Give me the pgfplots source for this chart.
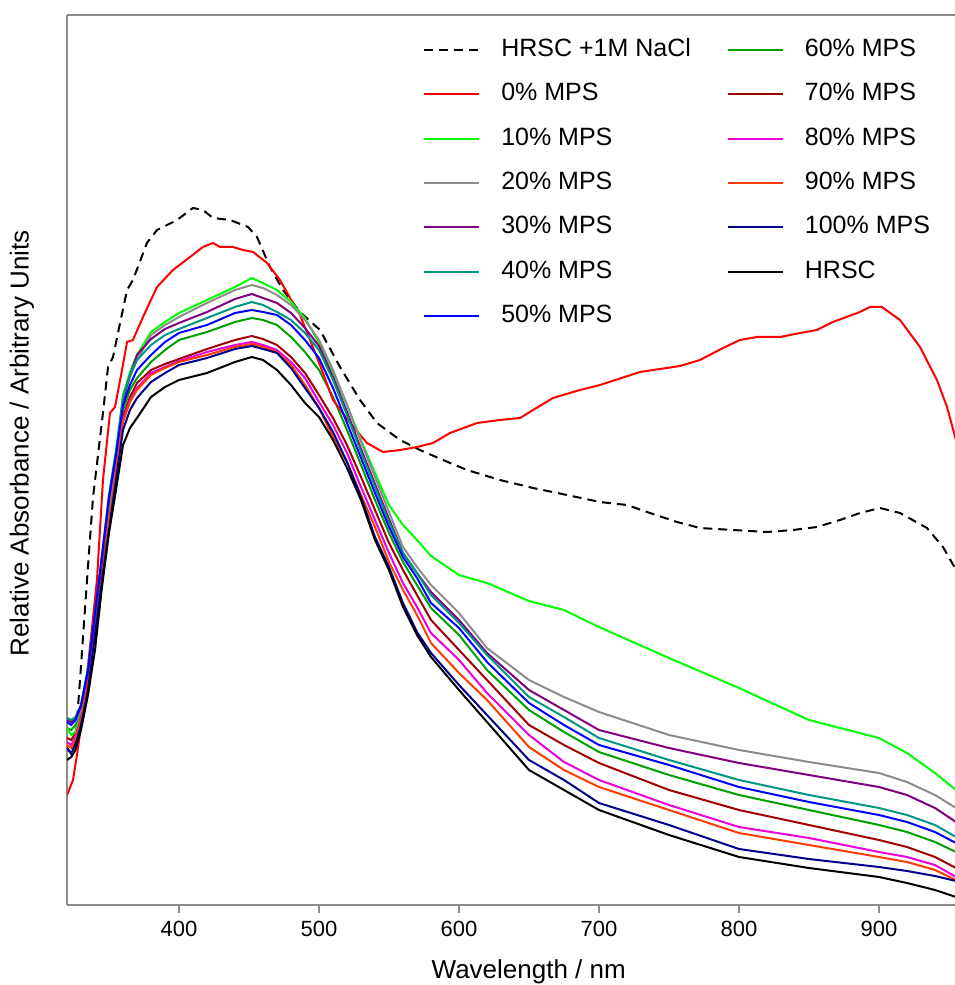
\documentclass[border=0pt]{standalone}
\usepackage{pgfplots}
\pgfplotsset{compat=1.18}
\usepackage{fontspec}
\setmainfont{Liberation Sans}
\definecolor{axgray}{RGB}{140,140,140}
\definecolor{cA}{RGB}{0,255,0}
\definecolor{cB}{RGB}{140,140,140}
\definecolor{cC}{RGB}{128,0,128}
\definecolor{cD}{RGB}{0,150,130}
\definecolor{cE}{RGB}{0,0,255}
\definecolor{cF}{RGB}{0,160,0}
\definecolor{cG}{RGB}{160,0,0}
\definecolor{cH}{RGB}{235,0,220}
\definecolor{cI}{RGB}{255,60,0}
\definecolor{cJ}{RGB}{0,0,140}
\begin{document}
\begin{tikzpicture}
\begin{axis}[
  scale only axis, width=888pt, height=890pt,
  xmin=320, xmax=954.3, ymin=0, ymax=890,
  axis x line*=box, axis y line*=left,
  axis line style={draw=axgray, line width=2.6pt},
  xtick={400,500,600,700,800,900}, xtick pos=bottom, ytick=\empty,
  tick align=outside, major tick length=8pt,
  tick style={draw=axgray, line width=2pt},
  /pgf/number format/assume math mode=true,
  ticklabel style={font=\fontsize{22}{26}\selectfont},
  xticklabel style={yshift=-5pt},
  xlabel={Wavelength / nm},
  ylabel={Relative Absorbance / Arbitrary Units},
  label style={font=\fontsize{26}{30}\selectfont},
  xlabel style={at={(axis description cs:0.52,-0.0745)}, anchor=center},
  ylabel style={at={(axis description cs:-0.0507,0.519)}, anchor=center},
  every axis plot/.append style={line width=2pt},
  legend columns=2,
  legend cell align=left,
  legend image code/.code={\draw[#1, line width=2pt] (0pt,0pt) -- (55pt,0pt);},
  legend style={draw=none, fill=none, at={(axis description cs:0.401,0.974)}, anchor=north west,
    font=\fontsize{25}{30}\selectfont, inner sep=0pt, row sep=21.4pt,
    nodes={inner sep=0pt, text height=18pt, text depth=5pt},
    /tikz/every odd column/.append style={column sep=21pt},
    /tikz/every even column/.append style={column sep=36pt}},
]
% HRSC + 1M NaCl
\addplot[black, dash pattern=on 9pt off 6pt] coordinates {(320,157)(323.6,150)(326.4,170)(329.3,225)(334.3,325)(338.6,408)(345.7,492)(349.3,538)(352.9,548)(357.9,582)(362.9,615)(367.1,625)(377.1,662)(384.3,675)(398.6,685)(410,697)(417.1,695)(424.3,687)(436.4,685)(449.3,678)(455.7,668)(465,638)(474.3,615)(486.4,593)(500.7,575)(515,538)(529.3,505)(541.4,482)(557.9,465)(572.1,455)(588.6,445)(605.7,435)(629.3,425)(652.9,417)(677.1,410)(700.7,403)(720,400)(736.4,392)(755.7,383)(772.1,377)(795.7,375)(820,373)(838.6,375)(855.7,378)(872.1,385)(886.4,392)(900.7,397)(915,392)(934.3,377)(945.7,358)(954.3,337)};
\addlegendentry{HRSC +1M NaCl}
% 60%
\addplot[cF] coordinates {(320,177)(323,175)(326,180)(330,195)(335,232)(340,290)(345,345)(350,400)(355,440)(360,495)(365,515)(370,527)(380,543)(390,555)(400,565)(420,573)(440,583)(452,587)(460,585)(470,580)(480,568)(490,553)(500,535)(510,508)(520,475)(530,440)(540,405)(550,372)(560,343)(570,320)(580,297)(600,270)(620,235)(650,195)(675,173)(700,153)(750,130)(800,110)(850,95)(900,80)(920,73)(940,63)(955,53)};
\addlegendentry{60\% MPS}
% 0%
\addplot[red] coordinates {(320,110)(324.3,125)(327.1,150)(331.4,192)(336.4,258)(341.4,325)(345.7,425)(350.7,492)(354.3,498)(359.3,535)(362.9,563)(367.1,565)(374.3,588)(384.3,618)(395.7,635)(407.9,648)(417.1,658)(424.3,662)(429.3,658)(438.6,658)(445.7,655)(452.9,653)(462.9,642)(472.1,625)(481.4,602)(486.4,590)(493.6,565)(500.7,540)(510,505)(522.1,482)(534.3,462)(545.7,453)(557.9,455)(570,458)(581.4,462)(593.6,472)(612.9,482)(629.3,485)(643.6,487)(652.9,495)(667.1,507)(686.4,515)(700.7,520)(729.3,533)(757.9,539)(772.1,545)(788.6,557)(800.7,565)(812.9,568)(829.3,568)(843.6,572)(855.7,575)(867.1,583)(886.4,593)(893.6,598)(902.1,598)(915,585)(929.3,558)(941.4,525)(948.6,498)(955,465)};
\addlegendentry{0\% MPS}
% 70%
\addplot[cG] coordinates {(320,167)(323,165)(326,172)(330,192)(335,230)(340,285)(345,340)(350,390)(355,440)(360,488)(365,508)(370,522)(380,535)(390,541)(400,546)(420,556)(440,565)(452,569)(460,566)(470,560)(480,548)(490,532)(500,510)(510,487)(520,460)(530,428)(540,395)(550,362)(560,335)(570,310)(580,285)(600,255)(620,225)(650,180)(675,160)(700,142)(750,115)(800,95)(850,80)(900,65)(920,58)(940,48)(955,37)};
\addlegendentry{70\% MPS}
% 10%
\addplot[cA] coordinates {(320,177)(323,170)(326,173)(330,190)(335,225)(340,280)(345,335)(350,395)(355,445)(360,510)(365,533)(370,550)(380,573)(390,583)(400,592)(420,605)(440,618)(452,627)(460,622)(470,615)(480,603)(490,587)(500,562)(510,533)(520,500)(530,465)(540,432)(550,400)(560,380)(570,365)(580,349)(600,330)(620,322)(650,304)(675,295)(700,278)(750,247)(800,217)(850,185)(900,167)(920,152)(940,132)(955,115)};
\addlegendentry{10\% MPS}
% 80%
\addplot[cH] coordinates {(320,163)(323,160)(326,168)(330,188)(335,225)(340,280)(345,335)(350,385)(355,435)(360,485)(365,505)(370,517)(380,532)(390,538)(400,544)(420,553)(440,560)(452,563)(460,560)(470,555)(480,543)(490,527)(500,503)(510,480)(520,452)(530,418)(540,385)(550,352)(560,322)(570,298)(580,272)(600,245)(620,212)(650,170)(675,143)(700,125)(750,100)(800,78)(850,67)(900,53)(920,48)(940,40)(955,28)};
\addlegendentry{80\% MPS}
% 20%
\addplot[cB] coordinates {(320,187)(323,185)(326,183)(330,195)(335,228)(340,280)(345,332)(350,390)(355,440)(360,505)(365,528)(370,545)(380,570)(390,580)(400,588)(420,602)(440,615)(452,620)(460,617)(470,610)(480,600)(490,585)(500,565)(510,535)(520,500)(530,463)(540,428)(550,393)(560,358)(570,338)(580,320)(600,292)(620,257)(650,225)(675,208)(700,193)(750,170)(800,155)(850,143)(900,132)(920,123)(940,110)(955,97)};
\addlegendentry{20\% MPS}
% 90%
\addplot[cI] coordinates {(320,160)(323,157)(326,165)(330,185)(335,222)(340,278)(345,332)(350,383)(355,433)(360,483)(365,503)(370,515)(380,530)(390,537)(400,543)(420,550)(440,558)(452,561)(460,558)(470,553)(480,540)(490,520)(500,497)(510,468)(520,443)(530,410)(540,378)(550,343)(560,315)(570,290)(580,262)(600,232)(620,205)(650,158)(675,135)(700,118)(750,95)(800,72)(850,60)(900,48)(920,43)(940,35)(955,25)};
\addlegendentry{90\% MPS}
% 30%
\addplot[cC] coordinates {(320,185)(323,183)(326,186)(330,198)(335,233)(340,288)(345,345)(350,405)(355,450)(360,505)(365,530)(370,550)(380,566)(390,576)(400,582)(420,593)(440,606)(452,611)(460,607)(470,602)(480,592)(490,577)(500,559)(510,528)(520,493)(530,456)(540,421)(550,386)(560,352)(570,332)(580,313)(600,285)(620,252)(650,215)(675,195)(700,175)(750,157)(800,142)(850,130)(900,118)(920,110)(940,97)(955,83)};
\addlegendentry{30\% MPS}
% 100%
\addplot[cJ] coordinates {(320,157)(323,152)(326,160)(330,180)(335,215)(340,270)(345,325)(350,375)(355,425)(360,475)(365,495)(370,507)(380,523)(390,532)(400,540)(420,547)(440,556)(452,559)(460,556)(470,552)(480,537)(490,517)(500,497)(510,473)(520,443)(530,408)(540,368)(550,338)(560,302)(570,273)(580,252)(600,220)(620,190)(650,145)(675,125)(700,102)(750,80)(800,56)(850,46)(900,38)(920,34)(940,29)(955,24)};
\addlegendentry{100\% MPS}
% 40%
\addplot[cD] coordinates {(320,187)(323,185)(326,188)(330,200)(335,237)(340,292)(345,350)(350,410)(355,455)(360,508)(365,530)(370,545)(380,560)(390,570)(400,576)(420,587)(440,598)(452,603)(460,600)(470,593)(480,585)(490,572)(500,555)(510,525)(520,490)(530,453)(540,418)(550,383)(560,352)(570,332)(580,310)(600,282)(620,250)(650,208)(675,188)(700,167)(750,145)(800,125)(850,110)(900,97)(920,90)(940,80)(955,68)};
\addlegendentry{40\% MPS}
% HRSC
\addplot[black] coordinates {(320,145)(323,148)(326,155)(330,175)(335,210)(340,255)(345,318)(350,372)(355,415)(360,460)(365,477)(370,487)(380,508)(390,518)(400,525)(420,532)(440,543)(452,548)(460,545)(470,535)(480,520)(490,502)(500,488)(510,465)(520,437)(530,405)(540,365)(550,335)(560,298)(570,270)(580,248)(600,215)(620,183)(650,135)(675,115)(700,95)(750,70)(800,48)(850,37)(900,28)(920,22)(940,15)(955,8)};
\addlegendentry{HRSC}
% 50%
\addplot[cE] coordinates {(320,183)(323,180)(326,185)(330,200)(335,235)(340,292)(345,350)(350,408)(355,450)(360,500)(365,520)(370,535)(380,550)(390,563)(400,572)(420,580)(440,592)(452,595)(460,593)(470,590)(480,580)(490,565)(500,547)(510,517)(520,482)(530,447)(540,412)(550,378)(560,348)(570,327)(580,302)(600,277)(620,243)(650,202)(675,180)(700,160)(750,140)(800,118)(850,103)(900,90)(920,83)(940,73)(955,62)};
\addlegendentry{50\% MPS}
\end{axis}
\pgfresetboundingbox
\path ([shift={(-67pt,-80pt)}]current axis.south west) rectangle ([shift={(0pt,15pt)}]current axis.north east);
\end{tikzpicture}
\end{document}
